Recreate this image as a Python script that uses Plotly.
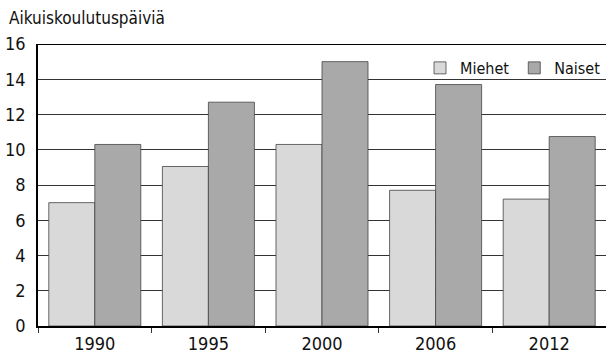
import plotly.graph_objects as go

years = ["1990", "1995", "2000", "2006", "2012"]
miehet = [7.0, 9.05, 10.3, 7.7, 7.2]
naiset = [10.3, 12.7, 15.0, 13.7, 10.75]
y_ticks = [0, 2, 4, 6, 8, 10, 12, 14, 16]

FONT = "DejaVu Sans Condensed, Liberation Sans Narrow, sans-serif"

fig = go.Figure()
fig.add_trace(go.Bar(x=years, y=miehet, name="Miehet",
                     marker=dict(color="#d9d9d9", line=dict(color="#444444", width=0.8))))
fig.add_trace(go.Bar(x=years, y=naiset, name="Naiset",
                     marker=dict(color="#a9a9a9", line=dict(color="#444444", width=0.8))))

fig.update_layout(
    width=606, height=355,
    margin=dict(l=38, r=0, t=44, b=29, autoexpand=False),
    paper_bgcolor="white", plot_bgcolor="white",
    barmode="group", bargap=0.19, bargroupgap=0,
    font=dict(family=FONT, size=14, color="#111111"),
    showlegend=True,
    legend=dict(orientation="h", x=1.0, xanchor="right", y=0.915, yanchor="middle",
                bgcolor="rgba(0,0,0,0)", font=dict(size=16), itemwidth=30,
                traceorder="normal"),
    annotations=[dict(text="Aikuiskoulutuspäiviä", xref="paper", yref="paper",
                      x=-31/568, y=(326-18)/282, xanchor="left", yanchor="middle",
                      showarrow=False, font=dict(size=17, family=FONT))],
)
fig.update_xaxes(
    type="category", showline=True, linecolor="#000000", linewidth=2,
    ticks="outside", tickson="boundaries", ticklen=5, tickcolor="#333333",
    showgrid=False, tickfont=dict(size=18), ticklabelstandoff=0,
)
fig.update_yaxes(
    range=[0, 16], tickvals=y_ticks, showline=True, linecolor="#000000", linewidth=1.5,
    showgrid=True, gridcolor="#333333", gridwidth=1, zeroline=False,
    ticks="", tickfont=dict(size=18), ticklabelstandoff=7,
)
fig.add_shape(type="line", xref="paper", yref="y", x0=0, x1=1, y0=16, y1=16,
              line=dict(color="#000000", width=2))

fig.write_html("out.html", config={"displayModeBar": False},
               post_script="document.body.style.margin='0';document.body.style.overflow='hidden';")
